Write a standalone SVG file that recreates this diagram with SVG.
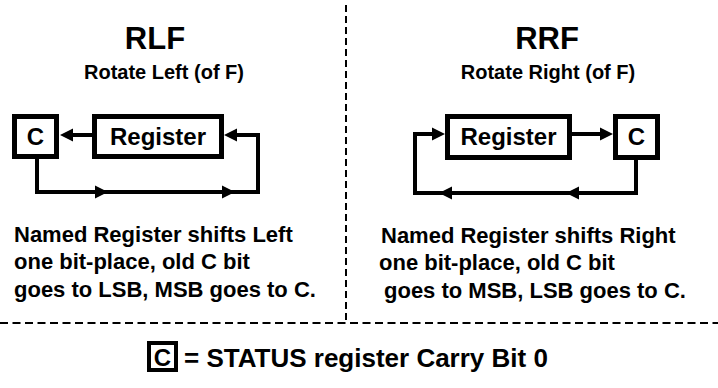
<svg xmlns="http://www.w3.org/2000/svg" xmlns:xlink="http://www.w3.org/1999/xlink" width="718" height="388" viewBox="0 0 718 388">
<style>
text{font-family:"Liberation Sans",Arial,sans-serif;font-weight:bold;fill:#000}
.title{font-size:31px}
.sub{font-size:20px}
.desc{font-size:22px}
.lbl{font-size:24px}
.leg{font-size:26px}
.box{fill:#fff;stroke:#000;stroke-width:5}
.wire{fill:none;stroke:#000;stroke-width:4;stroke-linejoin:miter}
.sep{fill:none;stroke:#000;stroke-width:2}
</style>
<defs>
<path id="ah" d="M0,0 L-13,-6.5 L-13,6.5 Z" fill="#000"/>
</defs>
<rect width="718" height="388" fill="#fff"/>
<g id="separators">
<line class="sep" x1="346" y1="5" x2="346" y2="323" stroke-dasharray="7,4"/>
<line class="sep" x1="0" y1="323" x2="718" y2="323" stroke-dasharray="8,4.5"/>
</g>
<g id="titles">
<text class="title" x="155" y="49" text-anchor="middle">RLF</text>
<text class="sub" x="164" y="79" text-anchor="middle">Rotate Left (of F)</text>
<text class="title" x="547" y="49" text-anchor="middle">RRF</text>
<text class="sub" x="548" y="79" text-anchor="middle">Rotate Right (of F)</text>
</g>
<g id="connectors">
<line class="wire" x1="92" y1="135" x2="70" y2="135"/>
<use xlink:href="#ah" transform="translate(60,135) rotate(180)"/>
<polyline class="wire" points="37,159 37,192 258,192 258,135 234,135"/>
<use xlink:href="#ah" transform="translate(224,135) rotate(180)"/>
<use xlink:href="#ah" transform="translate(108,192)"/>
<use xlink:href="#ah" transform="translate(235,192)"/>
<line class="wire" x1="572" y1="134" x2="603" y2="134"/>
<use xlink:href="#ah" transform="translate(613,134)"/>
<polyline class="wire" points="636,160 636,193 415,193 415,134 435,134"/>
<use xlink:href="#ah" transform="translate(445,134)"/>
<use xlink:href="#ah" transform="translate(439,193) rotate(180)"/>
<use xlink:href="#ah" transform="translate(566,193) rotate(180)"/>
</g>
<g id="rlf-c">
<rect class="box" x="14.5" y="116.5" width="42" height="40"/>
<text class="lbl" x="35.5" y="145" text-anchor="middle">C</text>
</g>
<g id="rlf-register">
<rect class="box" x="94.5" y="116.5" width="127" height="40"/>
<text class="lbl" x="158" y="145" text-anchor="middle">Register</text>
</g>
<g id="rrf-register">
<rect class="box" x="447.5" y="116.5" width="122" height="41"/>
<text class="lbl" x="508.5" y="145" text-anchor="middle">Register</text>
</g>
<g id="rrf-c">
<rect class="box" x="615.5" y="116.5" width="42" height="41"/>
<text class="lbl" x="636.5" y="145" text-anchor="middle">C</text>
</g>
<g id="rlf-desc">
<text class="desc" x="14" y="242">Named Register shifts Left</text>
<text class="desc" x="14" y="269">one bit-place, old C bit</text>
<text class="desc" x="14" y="297">goes to LSB, MSB goes to C.</text>
</g>
<g id="rrf-desc">
<text class="desc" x="381" y="243">Named Register shifts Right</text>
<text class="desc" x="379" y="270">one bit-place, old C bit</text>
<text class="desc" x="384" y="298">goes to MSB, LSB goes to C.</text>
</g>
<g id="legend">
<rect x="149" y="343" width="27" height="27" fill="#fff" stroke="#000" stroke-width="4"/>
<text class="lbl" x="162.5" y="366" text-anchor="middle">C</text>
<text class="leg" x="184" y="367">= STATUS register Carry Bit 0</text>
</g>
</svg>
